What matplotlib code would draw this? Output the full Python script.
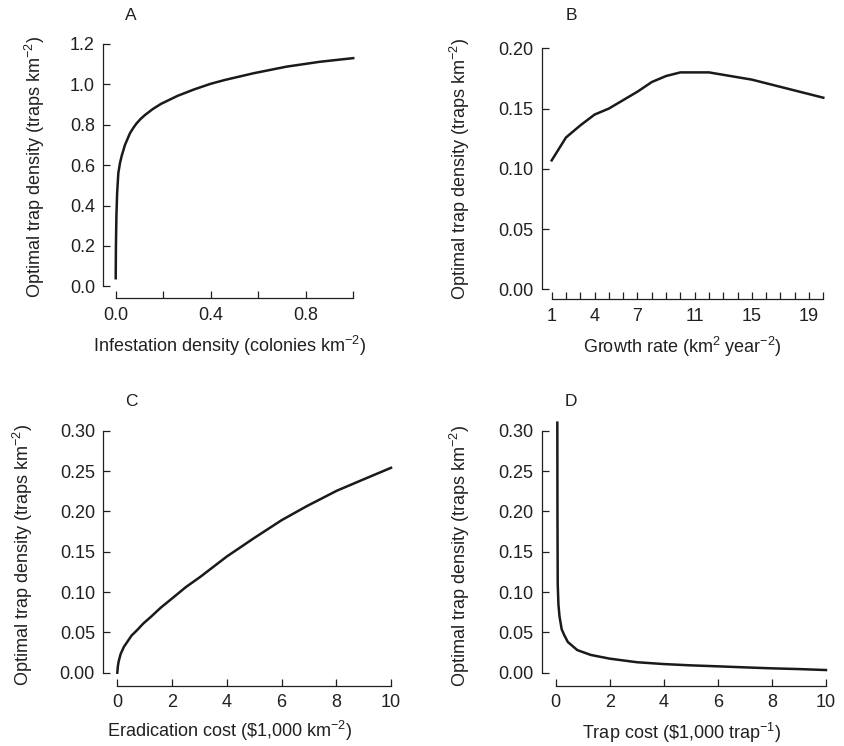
import matplotlib
matplotlib.use("Agg")
import matplotlib.pyplot as plt

plt.rcParams['font.family'] = ['Liberation Sans', 'DejaVu Sans']
plt.rcParams['mathtext.fontset'] = 'custom'
plt.rcParams['mathtext.rm'] = 'Liberation Sans'
plt.rcParams['mathtext.it'] = 'Liberation Sans'

INK = '#231f20'
W, H = 845, 746

# panel A: infestation density vs optimal trap density
inf_density = [0.0, 0.001, 0.003, 0.006, 0.011, 0.018, 0.025, 0.039, 0.06, 0.075,
               0.088, 0.105, 0.123, 0.155, 0.19, 0.26, 0.33, 0.40, 0.46, 0.58,
               0.72, 0.86, 1.0]
trap_a = [0.04, 0.20, 0.35, 0.46, 0.56, 0.61, 0.645, 0.70, 0.758, 0.786,
          0.807, 0.829, 0.848, 0.877, 0.903, 0.943, 0.975, 1.003, 1.022, 1.055,
          1.088, 1.112, 1.13]

# panel B: growth rate
growth = list(range(1, 21))
trap_b = [0.107, 0.126, 0.136, 0.145, 0.150, 0.157, 0.164, 0.172, 0.177, 0.180,
          0.180, 0.180, 0.178, 0.176, 0.174, 0.171, 0.168, 0.165, 0.162, 0.159]

# panel C: eradication cost
erad_cost = [0.0, 0.02, 0.05, 0.12, 0.24, 0.36, 0.52, 0.73, 0.95, 1.22, 1.6, 2.0,
             2.5, 3.04, 3.5, 4.0, 4.98, 6.0, 6.93, 8.02, 9.0, 10.0]
trap_c = [0.0, 0.008, 0.014, 0.023, 0.032, 0.038, 0.046, 0.053, 0.061, 0.069,
          0.081, 0.092, 0.106, 0.119, 0.131, 0.144, 0.1665, 0.189, 0.2066, 0.2256,
          0.2397, 0.254]

# panel D: trap cost
trap_cost = [0.06, 0.065, 0.075, 0.10, 0.14, 0.22, 0.31, 0.45, 0.8, 1.3, 2.0, 3.0,
             4.0, 5.0, 6.0, 7.0, 8.0, 9.0, 10.0]
trap_d = [0.31, 0.20, 0.11, 0.085, 0.07, 0.054, 0.047, 0.038, 0.028, 0.022, 0.0174,
          0.013, 0.0107, 0.0091, 0.0079, 0.0066, 0.0054, 0.0045, 0.0033]

ylab = r'Optimal trap density (traps km$^{-2}$)'

panels = [
    dict(box=(115.7, 353.2, 286.3, 44.0), x=inf_density, y=trap_a,
         xlim=(0, 1), ylim=(0, 1.2), xticks=[0, 0.2, 0.4, 0.6, 0.8, 1.0],
         xlabels=['0.0', '', '0.4', '', '0.8', ''],
         yticks=[0, 0.2, 0.4, 0.6, 0.8, 1.0, 1.2],
         yfmt='{:.1f}', off=(12.4, 12.0),
         title='A', tpos=(131, 16),
         xlab=r'Infestation density (colonies km$^{-2}$)', xlpos=(230, 352),
         ylpos=(35, 167)),
    dict(box=(551.7, 823.3, 289.3, 48.3), x=growth, y=trap_b,
         xlim=(1, 20), ylim=(0, 0.2), xticks=growth,
         xlabels=[str(g) if g in (1, 4, 7, 11, 15, 19) else '' for g in growth],
         yticks=[0, 0.05, 0.10, 0.15, 0.20],
         yfmt='{:.2f}', off=(10.0, 10.0),
         title='B', tpos=(571, 16),
         xlab=r'Growth rate (km$^{2}$ year$^{-2}$)', xlpos=(682, 353),
         ylpos=(460, 169)),
    dict(box=(117.3, 391.0, 672.7, 430.7), x=erad_cost, y=trap_c,
         xlim=(0, 10), ylim=(0, 0.3), xticks=[0, 2, 4, 6, 8, 10],
         xlabels=['0', '2', '4', '6', '8', '10'],
         yticks=[0, 0.05, 0.10, 0.15, 0.20, 0.25, 0.30],
         yfmt='{:.2f}', off=(14.0, 13.0),
         title='C', tpos=(131, 401),
         xlab=r'Eradication cost (\$1,000 km$^{-2}$)', xlpos=(230, 737),
         ylpos=(23, 555)),
    dict(box=(555.7, 826.0, 672.7, 430.7), x=trap_cost, y=trap_d,
         xlim=(0, 10), ylim=(0, 0.3), xticks=[0, 2, 4, 6, 8, 10],
         xlabels=['0', '2', '4', '6', '8', '10'],
         yticks=[0, 0.05, 0.10, 0.15, 0.20, 0.25, 0.30],
         yfmt='{:.2f}', off=(14.0, 13.0),
         title='D', tpos=(571, 401),
         xlab=r'Trap cost (\$1,000 trap$^{-1}$)', xlpos=(682, 739),
         ylpos=(460, 556)),
]

fig = plt.figure(figsize=(W / 100, H / 100), dpi=100)

for p in panels:
    x0, x1, y0, y1 = p['box']
    ax = fig.add_axes([x0 / W, 1 - y0 / H, (x1 - x0) / W, (y0 - y1) / H])
    ax.patch.set_visible(False)
    ax.plot(p['x'], p['y'], color='#1a1a1a', lw=1.8, clip_on=False,
            solid_joinstyle='round')
    ax.set_xlim(*p['xlim'])
    ax.set_ylim(*p['ylim'])
    for s in ('top', 'right'):
        ax.spines[s].set_visible(False)
    ax.spines['left'].set_position(('outward', p['off'][0] * 0.72))
    ax.spines['bottom'].set_position(('outward', p['off'][1] * 0.72))
    ax.spines['left'].set_bounds(p['yticks'][0], p['yticks'][-1])
    ax.spines['bottom'].set_bounds(p['xticks'][0], p['xticks'][-1])
    for s in ('left', 'bottom'):
        ax.spines[s].set_linewidth(0.9)
        ax.spines[s].set_color(INK)
    ax.set_xticks(p['xticks'])
    ax.set_xticklabels(p['xlabels'])
    ax.set_yticks(p['yticks'])
    ax.set_yticklabels([p['yfmt'].format(v) for v in p['yticks']])
    ax.tick_params(direction='in', length=5.2, width=0.9, color=INK,
                   labelcolor=INK, labelsize=13)
    ax.tick_params(axis='x', pad=6)
    ax.tick_params(axis='y', pad=6)

    fig.text(p['tpos'][0] / W, 1 - p['tpos'][1] / H, p['title'], ha='center',
             va='center', fontsize=12.5, color=INK)
    fig.text(p['xlpos'][0] / W, 1 - p['xlpos'][1] / H, p['xlab'], ha='center',
             va='baseline', fontsize=13, color=INK)
    fig.text(p['ylpos'][0] / W, 1 - p['ylpos'][1] / H, ylab, ha='center',
             va='center', rotation=90, fontsize=13, color=INK)

fig.savefig('out.png', dpi=100)
